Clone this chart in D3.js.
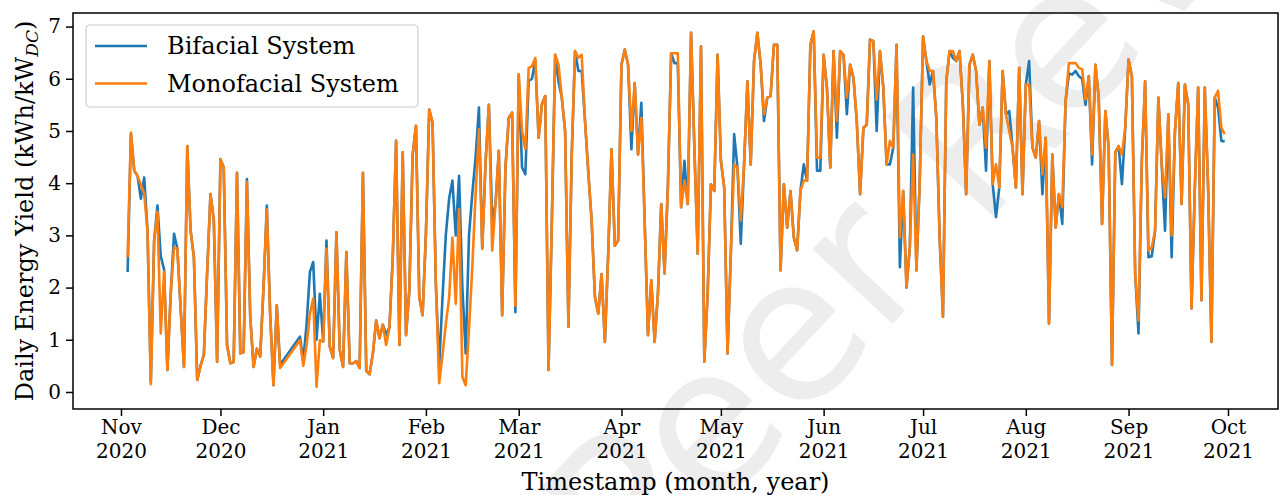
<!DOCTYPE html>
<html>
<head>
<meta charset="utf-8">
<script src="https://cdn.jsdelivr.net/npm/d3@7"></script>
<style>
  body { margin: 0; background: #fff; }
  svg text { font-family: "DejaVu Serif", serif; fill: #000; }
</style>
</head>
<body>
<div id="chart"></div>
<script>
// measured days, counted from 2020-11-01 (no data for 2020-12-19 .. 12-23)
const dayRanges = [[2, 48], [54, 333]];

// daily energy yield, kWh/kW_DC
const bifacial = [
  2.30, 4.95, 4.24, 4.14, 3.70, 4.11, 3.09, 0.20, 2.90, 3.57,
  2.60, 2.35, 0.42, 1.88, 3.03, 2.75, 1.60, 0.48, 4.71, 3.09,
  2.58, 0.23, 0.50, 0.71, 2.30, 3.79, 3.30, 0.58, 4.46, 4.30,
  0.90, 0.55, 0.58, 4.20, 0.74, 0.76, 4.08, 1.44, 0.48, 0.83,
  0.68, 2.00, 3.57, 1.50, 0.13, 1.66, 0.52,
  1.06, 0.60, 1.30, 2.30, 2.49, 1.00, 1.88, 0.97, 2.90, 0.87,
  0.65, 3.06, 0.81, 0.48, 2.68, 0.55, 0.55, 0.59, 0.46, 4.20,
  0.40, 0.34, 0.74, 1.37, 1.03, 1.29, 1.10, 1.24, 2.58, 4.81,
  0.90, 4.59, 1.09, 1.95, 4.55, 5.10, 1.82, 1.47, 3.03, 5.41,
  5.16, 2.08, 0.50, 1.80, 3.00, 3.70, 4.05, 3.00, 4.14, 2.00,
  0.74, 3.00, 3.80, 4.50, 5.45, 2.75, 4.40, 5.50, 3.28, 3.60,
  4.62, 1.47, 4.30, 5.25, 5.35, 1.53, 6.08, 4.30, 4.17, 5.96,
  6.00, 6.35, 4.87, 5.51, 5.67, 0.42, 3.28, 6.46, 5.95, 5.64,
  5.00, 1.25, 4.55, 6.53, 6.15, 6.15, 5.20, 4.20, 3.28, 1.82,
  1.50, 2.26, 0.96, 2.65, 4.65, 2.80, 2.90, 6.27, 6.56, 6.27,
  4.65, 5.92, 4.55, 5.54, 3.28, 1.09, 2.14, 0.96, 1.88, 3.60,
  2.27, 3.92, 6.49, 6.30, 6.30, 3.54, 4.43, 3.60, 6.88, 4.68,
  2.65, 6.62, 0.58, 1.88, 3.98, 3.85, 6.46, 4.43, 3.92, 0.74,
  2.65, 4.94, 4.30, 2.84, 4.36, 5.95, 4.36, 6.34, 6.88, 6.27,
  5.19, 5.64, 5.67, 6.65, 6.65, 2.33, 3.98, 3.15, 3.85, 2.96,
  2.71, 3.85, 4.36, 4.05, 6.65, 6.91, 4.24, 4.24, 6.46, 5.83,
  4.30, 6.53, 4.87, 6.53, 6.46, 5.32, 6.27, 6.02, 5.19, 3.79,
  5.06, 5.12, 6.75, 6.72, 5.00, 6.53, 5.83, 4.36, 4.36, 4.68,
  6.65, 2.39, 3.85, 2.00, 2.77, 5.83, 2.33, 4.05, 6.81, 6.34,
  5.89, 6.15, 5.25, 2.96, 1.44, 5.95, 6.53, 6.40, 6.34, 6.53,
  5.51, 3.79, 6.27, 6.46, 6.15, 5.12, 5.45, 4.24, 6.34, 3.98,
  3.35, 3.92, 6.15, 5.32, 5.38, 4.68, 3.92, 6.21, 3.79, 5.89,
  6.34, 4.68, 4.49, 5.19, 3.79, 4.87, 1.31, 4.55, 3.15, 3.79,
  3.22, 5.57, 6.10, 6.08, 6.15, 6.05, 6.00, 5.50, 6.05, 4.36,
  6.27, 5.64, 3.22, 5.38, 4.68, 0.52, 4.59, 4.71, 3.98, 5.06,
  6.37, 6.05, 2.26, 1.12, 4.43, 5.95, 2.58, 2.60, 3.09, 5.64,
  4.36, 3.09, 5.32, 2.58, 5.00, 5.92, 3.60, 5.89, 5.51, 1.60,
  3.92, 5.83, 1.76, 5.83, 3.92, 0.96, 5.64, 5.45, 4.81, 4.80
];

const monofacial = [
  2.58, 4.97, 4.24, 4.14, 3.97, 3.80, 3.09, 0.15, 2.90, 3.45,
  1.12, 2.30, 0.42, 1.88, 2.77, 2.75, 1.60, 0.48, 4.71, 3.09,
  2.58, 0.23, 0.50, 0.71, 2.30, 3.79, 3.30, 0.58, 4.46, 4.30,
  0.90, 0.55, 0.58, 4.20, 0.74, 0.76, 4.02, 1.44, 0.48, 0.83,
  0.68, 2.00, 3.50, 1.50, 0.13, 1.66, 0.46,
  0.99, 0.50, 0.90, 1.50, 1.79, 0.10, 0.99, 0.97, 2.75, 0.87,
  0.65, 3.06, 0.81, 0.48, 2.68, 0.55, 0.55, 0.59, 0.46, 4.20,
  0.40, 0.34, 0.74, 1.37, 1.03, 1.29, 0.90, 1.24, 2.58, 4.81,
  0.90, 4.59, 1.09, 1.95, 4.55, 5.10, 1.82, 1.47, 3.03, 5.41,
  5.16, 2.08, 0.17, 0.70, 1.30, 1.80, 2.96, 1.69, 3.50, 0.29,
  0.13, 1.20, 2.40, 3.80, 5.03, 2.75, 4.40, 5.50, 2.71, 3.60,
  4.62, 1.47, 4.30, 5.25, 5.35, 1.65, 6.08, 5.00, 4.65, 6.21,
  6.24, 6.40, 4.87, 5.51, 5.67, 0.42, 3.28, 6.46, 6.27, 5.64,
  5.00, 1.25, 4.55, 6.53, 6.40, 6.46, 5.20, 4.20, 3.28, 1.82,
  1.50, 2.26, 0.96, 2.65, 4.65, 2.80, 2.90, 6.27, 6.56, 6.27,
  5.00, 5.92, 4.55, 5.25, 3.28, 1.09, 2.14, 0.96, 1.88, 3.60,
  2.27, 3.92, 6.49, 6.49, 6.49, 3.54, 4.05, 3.60, 6.88, 4.68,
  2.65, 6.62, 0.58, 1.88, 3.98, 3.85, 6.46, 4.43, 3.92, 0.74,
  2.65, 4.36, 4.30, 3.28, 4.36, 5.95, 4.36, 6.34, 6.88, 6.27,
  5.32, 5.64, 5.67, 6.65, 6.65, 2.33, 3.98, 3.15, 3.85, 2.96,
  2.71, 3.85, 4.05, 4.05, 6.65, 6.91, 4.49, 4.49, 6.46, 5.83,
  4.30, 6.53, 5.19, 6.53, 6.46, 5.64, 6.27, 6.02, 5.19, 3.79,
  5.06, 5.12, 6.75, 6.72, 5.60, 6.53, 5.83, 4.36, 4.81, 4.68,
  6.65, 2.96, 3.85, 2.00, 2.77, 4.55, 2.33, 4.05, 6.81, 6.34,
  6.15, 6.15, 5.25, 2.96, 1.44, 5.95, 6.53, 6.53, 6.34, 6.53,
  5.51, 3.79, 6.27, 6.46, 6.15, 5.12, 5.45, 4.68, 6.34, 3.98,
  4.36, 3.92, 6.15, 5.32, 5.00, 4.68, 3.92, 6.21, 3.79, 5.89,
  5.89, 4.68, 4.49, 5.19, 4.17, 4.87, 1.31, 4.55, 3.15, 3.79,
  3.54, 5.57, 6.30, 6.30, 6.30, 6.21, 6.18, 5.60, 6.05, 4.55,
  6.27, 5.64, 3.22, 5.38, 4.68, 0.52, 4.59, 4.71, 4.55, 5.06,
  6.37, 6.05, 2.26, 1.37, 4.43, 5.95, 2.71, 2.77, 3.09, 5.64,
  4.36, 3.73, 5.32, 3.00, 5.00, 5.92, 3.60, 5.89, 5.51, 1.60,
  3.92, 5.83, 1.76, 5.83, 3.92, 0.96, 5.64, 5.77, 5.06, 4.94
];

const monthTicks = ['2020-11-01', '2020-12-01', '2021-01-01', '2021-02-01', '2021-03-01', '2021-04-01',
  '2021-05-01', '2021-06-01', '2021-07-01', '2021-08-01', '2021-09-01', '2021-10-01'];
const yTicks = [0, 1, 2, 3, 4, 5, 6, 7];
const seriesNames = ['Bifacial System', 'Monofacial System'];
const seriesColors = ['#1f77b4', '#ff7f0e'];

const W = 1280, H = 495;
const plot = {left: 73, right: 1278, top: 13, bottom: 409};
const DAY = 864e5;
const origin = Date.UTC(2020, 10, 1);

const days = dayRanges.flatMap(([a, b]) => d3.range(a, b + 1));
const toPoints = vals => days.map((d, i) => ({date: new Date(origin + d * DAY), v: vals[i]}));

const svg = d3.select('#chart').append('svg')
    .attr('width', W)
    .attr('height', H);

const x = d3.scaleUtc()
    .domain([new Date(origin - 14.48 * DAY), new Date(Date.UTC(2021, 9, 1) + 15.09 * DAY)])
    .range([plot.left, plot.right]);

const y = d3.scaleLinear()
    .domain([-0.326, 7.26])
    .range([plot.bottom, plot.top]);

// faint watermark behind everything (clipped to the page)
svg.append('clipPath').attr('id', 'page')
    .append('rect').attr('width', W).attr('height', H);
svg.append('g')
    .attr('clip-path', 'url(#page)')
    .append('text')
    .attr('transform', 'translate(635,600) rotate(-47)')
    .style('font-family', '"DejaVu Sans", sans-serif')
    .style('font-size', '200px')
    .style('fill', '#ededed')
    .text('Peer Review');

const line = d3.line()
    .x(d => x(d.date))
    .y(d => y(d.v));

const lines = svg.append('g');
[bifacial, monofacial].forEach((vals, i) => {
    lines.append('path')
        .datum(toPoints(vals))
        .attr('d', line)
        .attr('fill', 'none')
        .attr('stroke', seriesColors[i])
        .attr('stroke-width', 2.6)
        .attr('stroke-linejoin', 'round');
});

// x axis with two-line labels
const parse = d3.utcParse('%Y-%m-%d');
const xAxis = svg.append('g')
    .attr('transform', `translate(0,${plot.bottom})`)
    .call(d3.axisBottom(x)
        .tickValues(monthTicks.map(parse))
        .tickSize(7)
        .tickFormat(''));
xAxis.select('.domain').remove();
xAxis.selectAll('.tick line').attr('stroke-width', 1.5);
xAxis.selectAll('.tick').append('text')
    .attr('text-anchor', 'middle')
    .style('font-size', '20px')
    .selectAll('tspan')
    .data(d => [d3.utcFormat('%b')(d), d3.utcFormat('%Y')(d)])
    .join('tspan')
    .attr('x', 0)
    .attr('y', (d, i) => 25 + i * 24)
    .text(d => d);

const yAxis = svg.append('g')
    .attr('transform', `translate(${plot.left},0)`)
    .call(d3.axisLeft(y).tickValues(yTicks).tickSize(7).tickPadding(5));
yAxis.select('.domain').remove();
yAxis.selectAll('.tick line').attr('stroke-width', 1.5);
yAxis.selectAll('.tick text')
    .style('font-size', '20px')
    .style('font-family', '"DejaVu Serif", serif');

// frame
svg.append('rect')
    .attr('x', plot.left)
    .attr('y', plot.top)
    .attr('width', plot.right - plot.left)
    .attr('height', plot.bottom - plot.top)
    .attr('fill', 'none')
    .attr('stroke', '#000')
    .attr('stroke-width', 1.5);

// axis titles
svg.append('text')
    .attr('x', (plot.left + plot.right) / 2)
    .attr('y', 490)
    .attr('text-anchor', 'middle')
    .style('font-size', '24px')
    .text('Timestamp (month, year)');

const yLabel = svg.append('text')
    .attr('transform', `translate(33,${(plot.top + plot.bottom) / 2}) rotate(-90)`)
    .attr('text-anchor', 'middle')
    .style('font-size', '24px');
yLabel.append('tspan').text('Daily Energy Yield (kWh/kW');
yLabel.append('tspan')
    .attr('dy', 5)
    .style('font-size', '17px')
    .style('font-style', 'italic')
    .text('DC');
yLabel.append('tspan')
    .attr('dy', -5)
    .text(')');

// legend
const legend = svg.append('g').attr('transform', 'translate(86,25)');
legend.append('rect')
    .attr('width', 332)
    .attr('height', 82)
    .attr('rx', 4)
    .attr('fill', '#fff')
    .attr('fill-opacity', 0.8)
    .attr('stroke', '#cccccc')
    .attr('stroke-width', 1.2);
seriesNames.forEach((name, i) => {
    const row = legend.append('g').attr('transform', `translate(0,${21 + i * 37.5})`);
    row.append('line')
        .attr('x1', 9).attr('x2', 61)
        .attr('stroke', seriesColors[i])
        .attr('stroke-width', 2.6);
    row.append('text')
        .attr('x', 81)
        .attr('dy', '0.35em')
        .style('font-size', '24px')
        .text(name);
});
</script>
</body>
</html>
